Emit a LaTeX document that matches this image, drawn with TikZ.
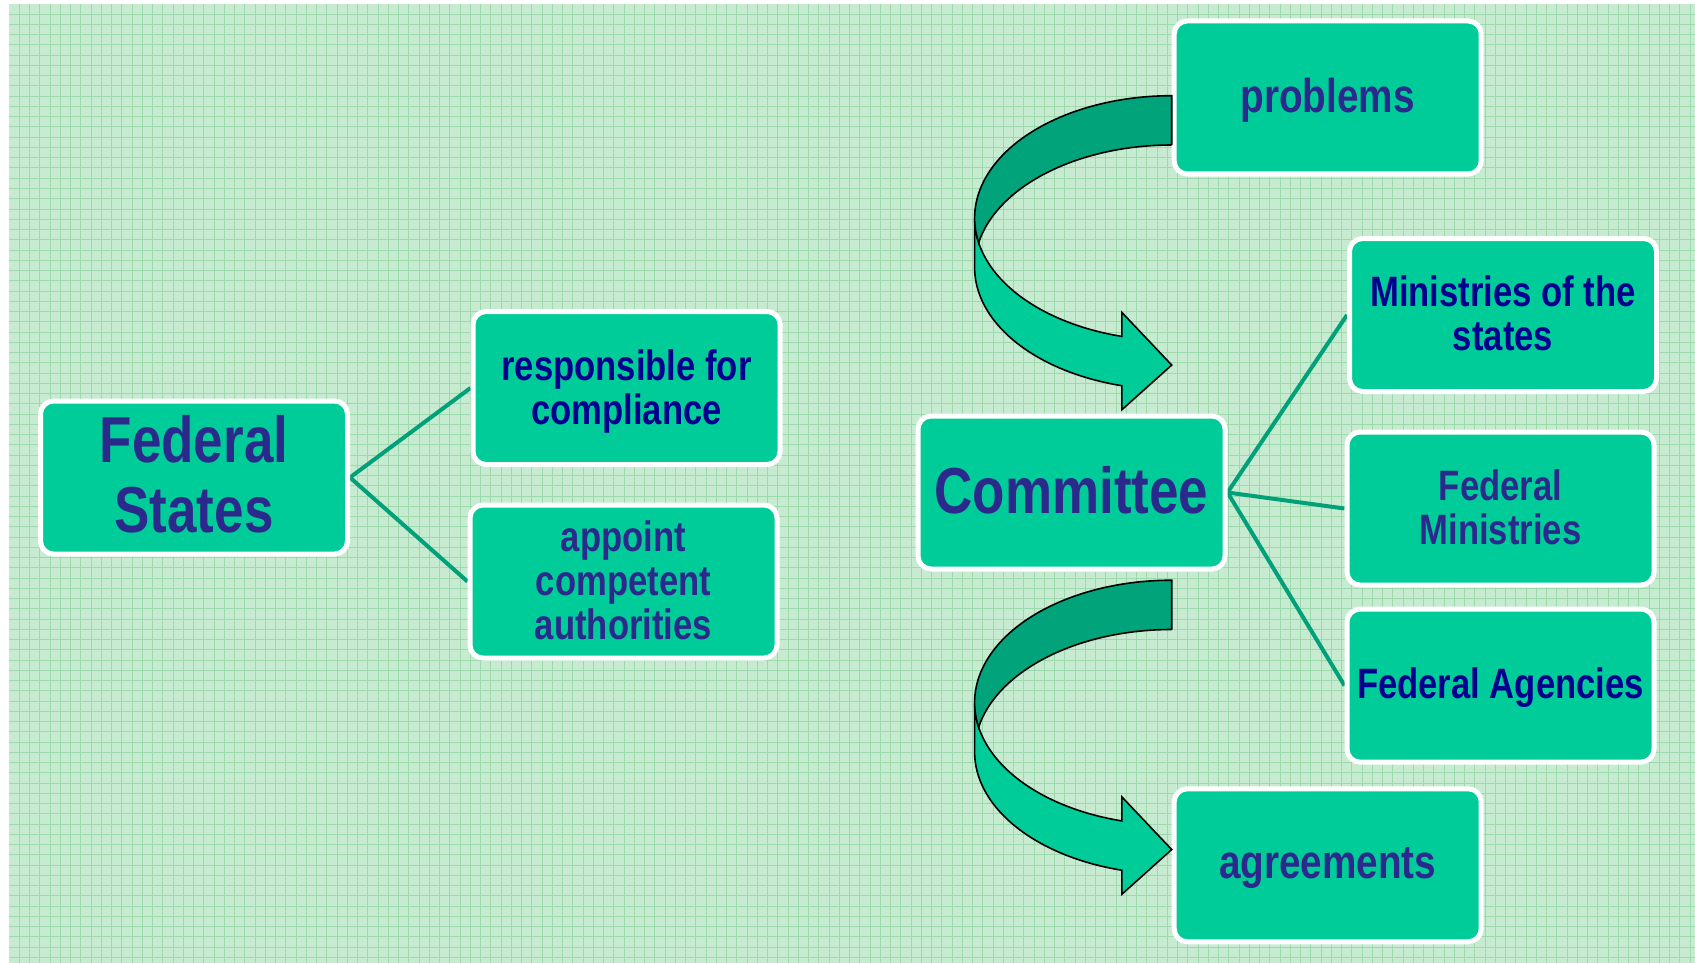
\documentclass[tikz,border=0pt]{standalone}
\usepackage{fontspec}
\setmainfont{Liberation Sans}[FakeStretch=0.815]
\definecolor{bgfill}{HTML}{C6EBD1}
\definecolor{gridc}{HTML}{9CDAAE}
\definecolor{boxfill}{HTML}{00CC99}
\definecolor{linec}{HTML}{00A078}
\definecolor{darkband}{HTML}{00A37A}
\definecolor{indigo}{HTML}{2B2A8C}
\definecolor{navy}{HTML}{00008F}
\pgfdeclarelayer{bg}
\pgfdeclarelayer{mid}
\pgfsetlayers{bg,mid,main}
\tikzset{
  box/.style={draw=white, line width=5pt, fill=boxfill, rounded corners=13pt,
    minimum width=307pt, minimum height=153pt, inner sep=0pt},
  lbl/.style={inner sep=0pt, align=center},
  txtA/.style={text=indigo},
  txtB/.style={text=navy},
  hugetxt/.style={font=\bfseries\fontsize{65}{70}\selectfont},
  midtxt/.style={font=\bfseries\fontsize{47.5}{50}\selectfont},
  smalltxt/.style={font=\bfseries\fontsize{42.5}{44}\selectfont},
  conn/.style={draw=linec, line width=4pt},
  arrfront/.style={fill=boxfill, draw=black, line width=1.6pt},
  arrback/.style={fill=darkband, draw=black, line width=1.6pt},
}
\newcommand{\bentarrow}[1]{%
  \begin{scope}[shift={(#1)}]
    \filldraw[arrfront] (-197.1,122.35)
      -- plot[domain=180:104.64,samples=60,variable=\ang] ({197.1*cos(\ang)},{122.35+122.35*sin(\ang)})
      -- (-49.8,216.72) -- (0,269.35) -- (-49.8,314.02) -- (-49.8,290.02)
      -- plot[domain=104.64:180,samples=60,variable=\ang] ({197.1*cos(\ang)},{171.65+122.35*sin(\ang)})
      -- cycle;
    \filldraw[arrback] (0,49.3)
      -- plot[domain=270:191.62,samples=60,variable=\ang] ({197.1*cos(\ang)},{171.65+122.35*sin(\ang)})
      -- plot[domain=168.38:270,samples=60,variable=\ang] ({197.1*cos(\ang)},{122.35+122.35*sin(\ang)})
      -- cycle;
  \end{scope}}
\begin{document}
\begin{tikzpicture}[x=1pt,y=-1pt]
\useasboundingbox (0,0) rectangle (1695,963);
\begin{pgfonlayer}{bg}
  \fill[bgfill] (9,4) rectangle (1695,963);
  \draw[gridc, line width=1pt]
    \foreach \i in {1,...,164} {(9+10.25*\i,4) -- (9+10.25*\i,963)}
    \foreach \j in {1,...,93} {(9,4+10.25*\j) -- (1695,4+10.25*\j)};
\end{pgfonlayer}

% boxes
\node[box] (fs) at (194,477.5) {};
\node[box] (resp) at (626.5,388) {};
\node[box] (appt) at (623.5,581.5) {};
\node[box] (comm) at (1071.5,492.5) {};
\node[box] (prob) at (1327.7,97.5) {};
\node[box] (mins) at (1503,315) {};
\node[box] (fmin) at (1500.5,508.5) {};
\node[box] (fag) at (1500.5,685.6) {};
\node[box] (agr) at (1327.7,865.3) {};

% texts
\node[lbl, hugetxt, txtA] (fs-t) at ([yshift=3pt]fs.center) {Federal\\States};
\node[lbl, smalltxt, txtB] (resp-t) at ([yshift=-3.5pt]resp.center) {responsible for\\compliance};
\node[lbl, smalltxt, txtA] (appt-t) at ([yshift=1pt]appt.center) {appoint\\competent\\authorities};
\node[lbl, hugetxt, txtA] (comm-t) at ([yshift=2pt]comm.center) {Committee};
\node[lbl, midtxt, txtA] (prob-t) at ([yshift=-3pt]prob.center) {problems};
\node[lbl, smalltxt, txtB] (mins-t) at ([yshift=2pt]mins.center) {Ministries of the\\states};
\node[lbl, smalltxt, txtA] (fmin-t) at ([yshift=1.5pt]fmin.center) {Federal\\Ministries};
\node[lbl, smalltxt, txtB] (fag-t) at ([yshift=-2pt]fag.center) {Federal Agencies};
\node[lbl, midtxt, txtA] (agr-t) at ([yshift=-3pt]agr.center) {agreements};

\begin{pgfonlayer}{mid}
  \draw[conn] (resp.west) -- (fs.east) -- (appt.west);
  \draw[conn] (comm.east) -- (mins.west);
  \draw[conn] (comm.east) -- (fmin.west);
  \draw[conn] (comm.east) -- (fag.west);
\end{pgfonlayer}

\path (prob.west) ++(0,-1.8) coordinate (arrA);
\path (arrA) ++(0,484.5) coordinate (arrB);
\bentarrow{arrA}
\bentarrow{arrB}
\end{tikzpicture}
\end{document}
